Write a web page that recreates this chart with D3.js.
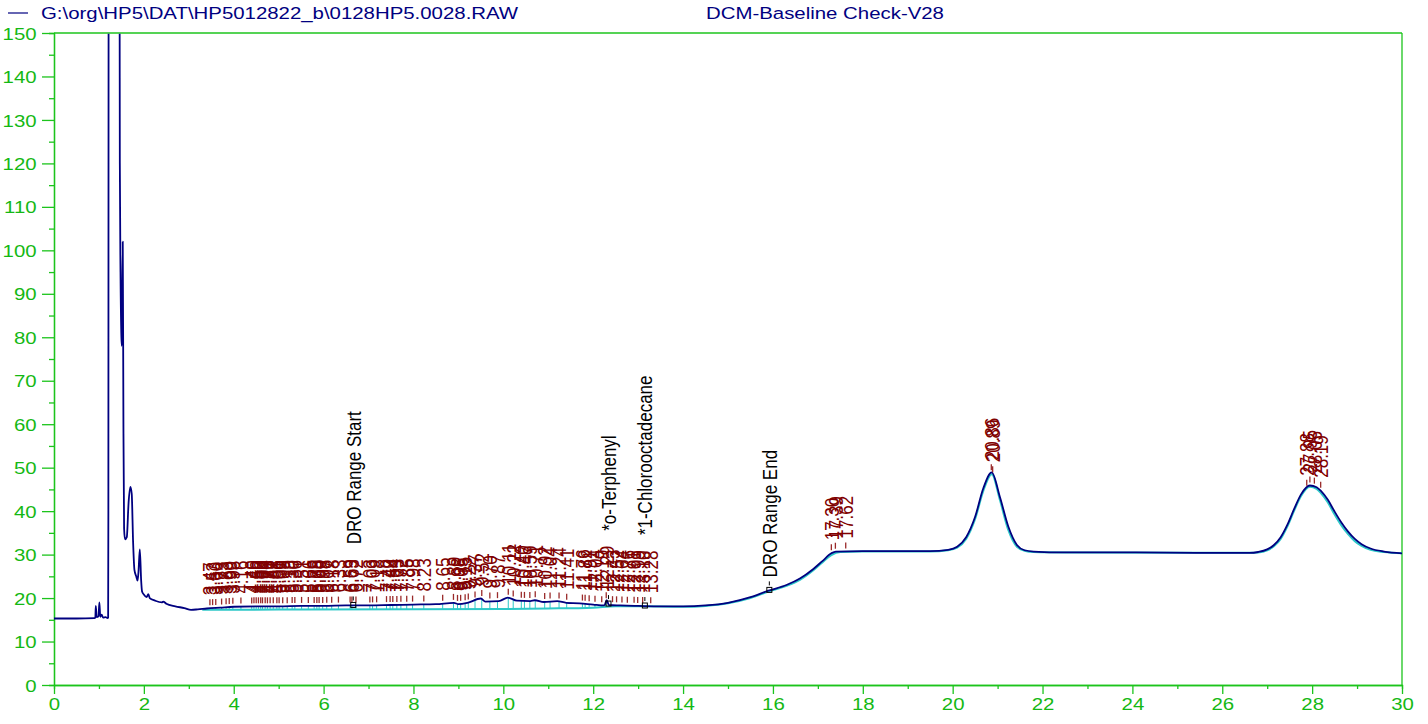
<!DOCTYPE html>
<html><head><meta charset="utf-8">
<script src="https://cdn.jsdelivr.net/npm/d3@7"></script>
<style>
html,body{margin:0;padding:0;background:#fff;}
svg{display:block;font-family:"Liberation Sans",Arial,Helvetica,sans-serif;}
</style></head><body>
<svg id="chart" width="1428" height="724"></svg>
<script>
// ---------- data ----------
const fileLabel = "G:\\org\\HP5\\DAT\\HP5012822_b\\0128HP5.0028.RAW";
const methodLabel = "DCM-Baseline Check-V28";

const navyTime  = [0,0.5,0.9,0.92,0.93,0.95,0.99,1.01,1.03,1.06,1.09,1.15,1.19,1.205,1.21,1.215,1.46,1.465,1.48,1.50,1.51,1.53,1.545,1.56,1.58,1.62,1.66,1.70,1.73,1.76,1.79,1.83,1.86,1.88,1.91,1.94,1.96,2.0,2.06,2.10,2.13,2.25,2.4,2.43,2.5,2.7,2.9,3.05,3.2,3.4,3.7,4.0,4.5,5.0,5.5,6.0,6.5,7.0,7.5,8.0,8.5,8.9,9.0,9.2,9.5,9.6,9.9,10.1,10.3,10.6,10.7,10.9,11.2,11.4,11.7,12.0,12.25,12.3,12.35,12.6,13.0,13.5,14.0,14.5,15.0,15.5,15.9,16.3,16.6,16.9,17.1,17.3,17.4,18.0,19.0,19.5,19.9,20.1,20.3,20.5,20.68,20.87,21.05,21.24,21.43,21.6,21.8,22.5,24,25.5,26.6,26.8,27.0,27.15,27.3,27.45,27.6,27.75,27.95,28.1,28.2,28.35,28.5,28.65,28.8,28.95,29.1,29.3,29.6,30];
const navyValue = [15.3,15.3,15.4,15.5,18.2,15.6,15.8,19.0,15.7,16.2,15.5,15.6,15.4,15.5,40,160,160,120,95,80,78,102,60,36,33.5,34,42,45.6,44,33,26.5,25,24,26,31.2,24,21.5,20.8,20.2,20.9,20.0,19.4,19.0,19.2,18.7,18.1,17.7,17.3,17.4,17.6,17.8,18.0,18.1,18.1,18.2,18.2,18.3,18.3,18.4,18.5,18.6,18.9,18.6,18.9,19.9,19.2,19.3,20.1,19.4,19.3,19.5,19.1,19.3,18.9,18.8,18.5,18.3,19.5,18.4,18.3,18.2,18.1,18.1,18.3,18.9,20.2,21.7,23.0,24.5,26.7,28.5,30.3,30.7,30.8,30.8,30.8,31.1,31.8,34.0,38.7,45.2,48.9,43.3,36.4,32.2,31.0,30.7,30.5,30.5,30.4,30.4,30.6,31.2,32.2,34.0,36.9,40.5,43.8,45.9,45.5,44.6,42.6,39.9,37.4,35.3,33.6,32.4,31.4,30.7,30.3];

const cyanTime  = [3.3,5,8,10,11,12,12.5,13,14,14.5,15,15.5,15.9,16.3,16.6,16.9,17.1,17.3,17.5,18,19.5,19.9,20.1,20.3,20.5,20.68,20.87,21.05,21.24,21.43,21.6,21.8,22.5,25.5,26.6,26.8,27.0,27.15,27.3,27.45,27.6,27.75,27.95,28.1,28.2,28.35,28.5,28.65,28.8,28.95,29.1,29.3,29.6,30];
const cyanValue = [17.3,17.35,17.4,17.5,17.6,17.8,18.1,18.1,18.0,18.2,18.8,20.0,21.5,22.8,24.2,26.4,28.2,29.9,30.6,30.7,30.7,31.0,31.6,33.6,38.2,44.6,48.5,42.6,35.6,31.8,30.9,30.6,30.5,30.4,30.4,30.5,31.0,31.9,33.6,36.5,40.1,43.4,45.6,45.1,44.1,42.0,39.2,36.7,34.7,33.1,32.0,31.1,30.6,30.3];

const peakTimes = [3.47,3.53,3.60,3.73,3.83,3.90,3.98,4.16,4.40,4.45,4.50,4.55,4.60,4.64,4.70,4.75,4.81,4.88,4.96,5.01,5.09,5.19,5.30,5.36,5.51,5.66,5.79,5.85,5.90,5.98,6.07,6.18,6.33,6.59,6.63,6.72,7.03,7.09,7.18,7.40,7.48,7.54,7.63,7.72,7.85,7.98,8.23,8.65,8.89,8.98,9.05,9.15,9.22,9.37,9.52,9.70,9.87,10.11,10.22,10.40,10.47,10.59,10.71,10.92,11.04,11.24,11.41,11.76,11.82,11.91,12.04,12.19,12.29,12.43,12.52,12.64,12.76,12.91,12.99,13.10,13.28,17.30,17.39,17.62,20.86,20.89,27.88,27.95,28.05,28.19];

const annotationNames = ["DRO Range Start","*o-Terphenyl","*1-Chlorooctadecane","DRO Range End"];
const annotationTimes = [6.66,12.34,13.15,15.92];

const xTicks = [0,2,4,6,8,10,12,14,16,18,20,22,24,26,28,30];
const xMinorTicks = [1,3,5,7,9,11,13,15,17,19,21,23,25,27,29];
const yTicks = [0,10,20,30,40,50,60,70,80,90,100,110,120,130,140,150];
const yMinorTicks = [5,15,25,35,45,55,65,75,85,95,105,115,125,135,145];

// ---------- layout ----------
const W = 1428, H = 724;
const m = {left:54, top:33, right:26, bottom:39};
const green = "#1cc41c", greenText = "#14b814";
const navy = "#000080", cyan = "#2ec8c8", dred = "#800000";
const FS = 17, SX = 1.2;

const svg = d3.select("#chart");
const x = d3.scaleLinear().domain([0,30]).range([m.left, W - m.right]);
const y = d3.scaleLinear().domain([0,150]).range([H - m.bottom, m.top]);

const navyData = navyTime.map((t,i)=>[t, navyValue[i]]);
const cyanData = cyanTime.map((t,i)=>[t, cyanValue[i]]);
function interpAt(data, t){
  const i = d3.bisector(d=>d[0]).left(data, t);
  if (i<=0) return data[0][1];
  if (i>=data.length) return data[data.length-1][1];
  const a = data[i-1], b = data[i];
  return a[1] + (b[1]-a[1])*(t-a[0])/(b[0]-a[0]);
}
const navyAt = t => interpAt(navyData, t);
const cyanAt = t => interpAt(cyanData, t);

// header
const hdr = svg.append("g");
hdr.append("line").attr("x1",8).attr("x2",28).attr("y1",13).attr("y2",13).attr("stroke",navy).attr("stroke-width",1.2);
hdr.append("text").attr("transform","translate(41,19) scale("+SX+",1)").attr("font-size",FS).attr("fill",navy).text(fileLabel);
hdr.append("text").attr("transform","translate(706,19) scale("+SX+",1)").attr("font-size",FS).attr("fill",navy).text(methodLabel);

// axes
function styleAxis(g){
  g.select(".domain").attr("stroke",green).attr("stroke-width",1.3);
  g.selectAll(".tick line").attr("stroke",green).attr("stroke-width",1.3);
  g.selectAll(".tick text").attr("fill",greenText).attr("font-size",FS)
    .attr("font-family","Liberation Sans, Arial, sans-serif");
}
const yMinor = svg.append("g").attr("transform",`translate(${m.left},0)`)
  .call(d3.axisLeft(y).tickValues(yMinorTicks).tickSize(5).tickFormat(""));
styleAxis(yMinor);
const yAxis = svg.append("g").attr("transform",`translate(${m.left},0)`)
  .call(d3.axisLeft(y).tickValues(yTicks).tickSize(12).tickPadding(3).tickSizeOuter(0));
styleAxis(yAxis);
yAxis.selectAll(".tick text").attr("x",-14.5).attr("transform",`scale(${SX},1)`).attr("dy","0.36em");

const xMinor = svg.append("g").attr("transform",`translate(0,${H-m.bottom})`)
  .call(d3.axisBottom(x).tickValues(xMinorTicks).tickSize(4).tickFormat(""));
styleAxis(xMinor);
const xAxis = svg.append("g").attr("transform",`translate(0,${H-m.bottom})`)
  .call(d3.axisBottom(x).tickValues(xTicks).tickSize(9).tickPadding(4).tickSizeOuter(0));
styleAxis(xAxis);
xAxis.selectAll(".tick text").attr("transform",`scale(${SX},1)`).attr("y",13).attr("dy","0.71em");

// frame: top and right
svg.append("line").attr("x1",m.left).attr("x2",W-m.right).attr("y1",m.top).attr("y2",m.top).attr("stroke",green).attr("stroke-width",1.3);
svg.append("line").attr("x1",W-m.right).attr("x2",W-m.right).attr("y1",m.top).attr("y2",H-m.bottom).attr("stroke",green).attr("stroke-width",1.3);

// clip
svg.append("defs").append("clipPath").attr("id","plotclip").append("rect")
  .attr("x",m.left).attr("y",m.top+0.7).attr("width",W-m.left-m.right).attr("height",H-m.top-m.bottom);

const line = d3.line().x(d=>x(d[0])).y(d=>y(d[1])).curve(d3.curveMonotoneX);
const plot = svg.append("g").attr("clip-path","url(#plotclip)");

// cyan trace and drop lines
plot.append("path").datum(cyanData).attr("d",line).attr("fill","none").attr("stroke",cyan).attr("stroke-width",2);
plot.selectAll(".drop").data(peakTimes.filter(t=>t<14)).enter().append("line")
  .attr("x1",d=>x(d)).attr("x2",d=>x(d))
  .attr("y1",d=>y(cyanAt(d))).attr("y2",d=>y(navyAt(d)))
  .attr("stroke",cyan).attr("stroke-width",1);

// navy trace
plot.append("path").datum(navyData).attr("d",line).attr("fill","none").attr("stroke",navy).attr("stroke-width",1.8).attr("stroke-linejoin","round");

// red retention time labels
const lab = svg.append("g");
const labelTop = {};
peakTimes.forEach(t=>{
  const py = y(navyAt(t));
  lab.append("line").attr("x1",x(t)).attr("x2",x(t)).attr("y1",py-3).attr("y2",py-9)
    .attr("stroke","#9a2a2a").attr("stroke-width",1.3);
  const txt = lab.append("text")
    .attr("transform",`translate(${x(t)},${py-13}) scale(${SX},1) rotate(-90)`)
    .attr("dy","0.36em").attr("font-size",FS).attr("fill",dred).text(t.toFixed(2));
  const len = txt.node().getComputedTextLength();
  labelTop[t] = py - 13 - len;
});

// black annotations
const ann = svg.append("g");
annotationTimes.forEach((t,i)=>{
  const py = y(navyAt(t));
  ann.append("rect").attr("x",x(t)-2.5).attr("y",py-3).attr("width",5).attr("height",5)
    .attr("fill","none").attr("stroke","#000").attr("stroke-width",1);
  ann.append("line").attr("x1",x(t)).attr("x2",x(t)).attr("y1",py-5).attr("y2",py-9)
    .attr("stroke","#000").attr("stroke-width",1);
  let bottom = py - 13;
  peakTimes.forEach(p=>{ if (Math.abs(p-t) < 0.45) bottom = Math.min(bottom, labelTop[p]-15); });
  ann.append("text")
    .attr("transform",`translate(${x(t)},${bottom}) scale(${SX},1) rotate(-90)`)
    .attr("dy","0.36em").attr("font-size",FS).attr("fill","#000").text(annotationNames[i]);
});
</script>
</body></html>
